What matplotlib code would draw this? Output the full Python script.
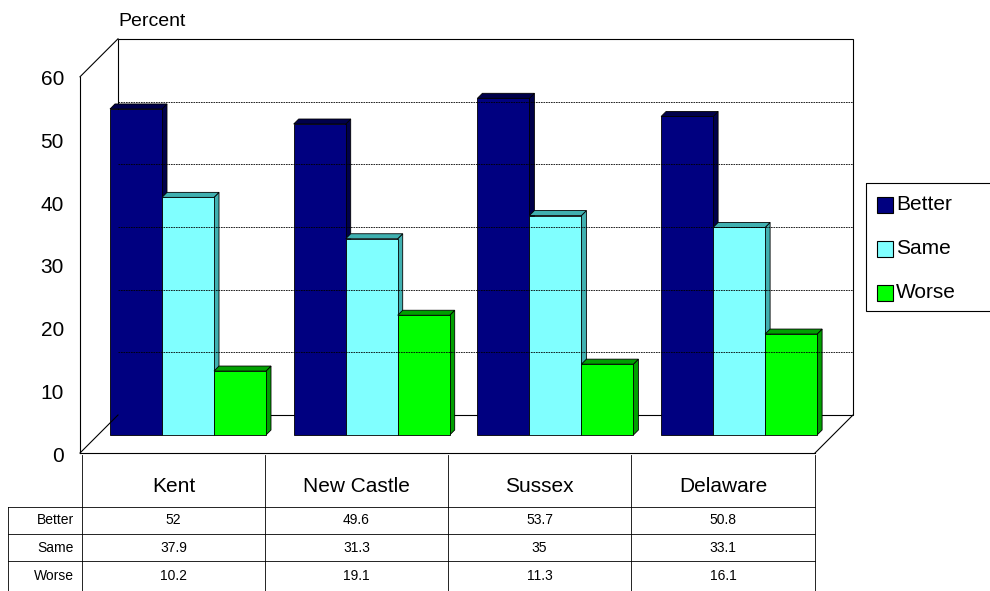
import matplotlib.pyplot as plt
from matplotlib.patches import Polygon, Rectangle

categories = ["Kent", "New Castle", "Sussex", "Delaware"]
series = ["Better", "Same", "Worse"]
better = [52, 49.6, 53.7, 50.8]
same = [37.9, 31.3, 35, 33.1]
worse = [10.2, 19.1, 11.3, 16.1]
values = [better, same, worse]
face = ["#000080", "#80FFFF", "#00FF00"]
side = ["#00004A", "#40B0B0", "#00A000"]

fig = plt.figure(figsize=(9.9, 5.91), dpi=100)
ax = fig.add_axes([0, 0, 1, 1])
ax.set_xlim(0, 990)
ax.set_ylim(591, 0)
ax.axis("off")

ppu = 6.27          # pixels per percent
dx, dy = 38, -38    # depth offset of the back wall
fx0, fx1, fy = 80, 815, 453

def ypx(v, base):
    return base - v * ppu

# back wall with grid
ax.add_patch(Polygon([(fx0 + dx, fy + dy), (fx1 + dx, fy + dy),
                      (fx1 + dx, ypx(60, fy + dy)), (fx0 + dx, ypx(60, fy + dy))],
                     closed=True, fill=False, lw=0.8, ec="black"))
for v in range(10, 60, 10):
    ax.plot([fx0 + dx, fx1 + dx], [ypx(v, fy + dy)] * 2, color="black", lw=0.6, ls=(0, (2, 1)))
# left wall
ax.plot([fx0, fx0], [fy, ypx(60, fy)], color="black", lw=0.8)
ax.plot([fx0, fx0 + dx], [ypx(60, fy), ypx(60, fy + dy)], color="black", lw=0.8)
ax.plot([fx0, fx0 + dx], [fy, fy + dy], color="black", lw=0.8)
# floor
ax.plot([fx0, fx1], [fy, fy], color="black", lw=0.8)
ax.plot([fx1, fx1 + dx], [fy, fy + dy], color="black", lw=0.8)
for v in range(0, 70, 10):
    ax.text(64, ypx(v, 456), str(v), ha="right", va="center", fontsize=15, family="Liberation Sans")
ax.text(118, 22, "Percent", ha="left", va="center", fontsize=14, family="Liberation Sans")

# bars
base = 435
bw, bd = 52, 5
for i, cat in enumerate(categories):
    gx = 110 + i * 183.7
    for j in range(3):
        x0 = gx + j * bw
        top = ypx(values[j][i], base)
        ax.add_patch(Polygon([(x0 + bw, base), (x0 + bw + bd, base - bd),
                              (x0 + bw + bd, top - bd), (x0 + bw, top)],
                             closed=True, fc=side[j], ec="black", lw=0.6))
        ax.add_patch(Polygon([(x0, top), (x0 + bd, top - bd),
                              (x0 + bw + bd, top - bd), (x0 + bw, top)],
                             closed=True, fc=side[j], ec="black", lw=0.6))
        ax.add_patch(Rectangle((x0, top), bw, base - top, fc=face[j], ec="black", lw=0.6))

# data table
cols = [82, 265, 448, 631, 815]
rows = [507, 534, 561, 591]
for c in cols:
    ax.plot([c, c], [455, 591], color="black", lw=0.6)
ax.plot([8, 8], [rows[0], 591], color="black", lw=0.6)
for r in rows[:-1]:
    ax.plot([8, cols[-1]], [r, r], color="black", lw=0.6)
for i, cat in enumerate(categories):
    cx = (cols[i] + cols[i + 1]) / 2
    ax.text(cx, 486, cat, ha="center", va="center", fontsize=15, family="Liberation Sans")
    for j in range(3):
        ax.text(cx, (rows[j] + rows[j + 1]) / 2, f"{values[j][i]:g}", ha="center", va="center",
                fontsize=10, family="Liberation Sans")
for j, s in enumerate(series):
    ax.text(74, (rows[j] + rows[j + 1]) / 2, s, ha="right", va="center", fontsize=10, family="Liberation Sans")

# legend
ax.add_patch(Rectangle((866, 183), 130, 128, fill=False, ec="black", lw=0.8))
for j, s in enumerate(series):
    y = 205 + j * 44
    ax.add_patch(Rectangle((877, y - 8), 16, 16, fc=face[j], ec="black", lw=0.8))
    ax.text(896, y, s, ha="left", va="center", fontsize=15, family="Liberation Sans")

fig.savefig("out.png", dpi=100)
